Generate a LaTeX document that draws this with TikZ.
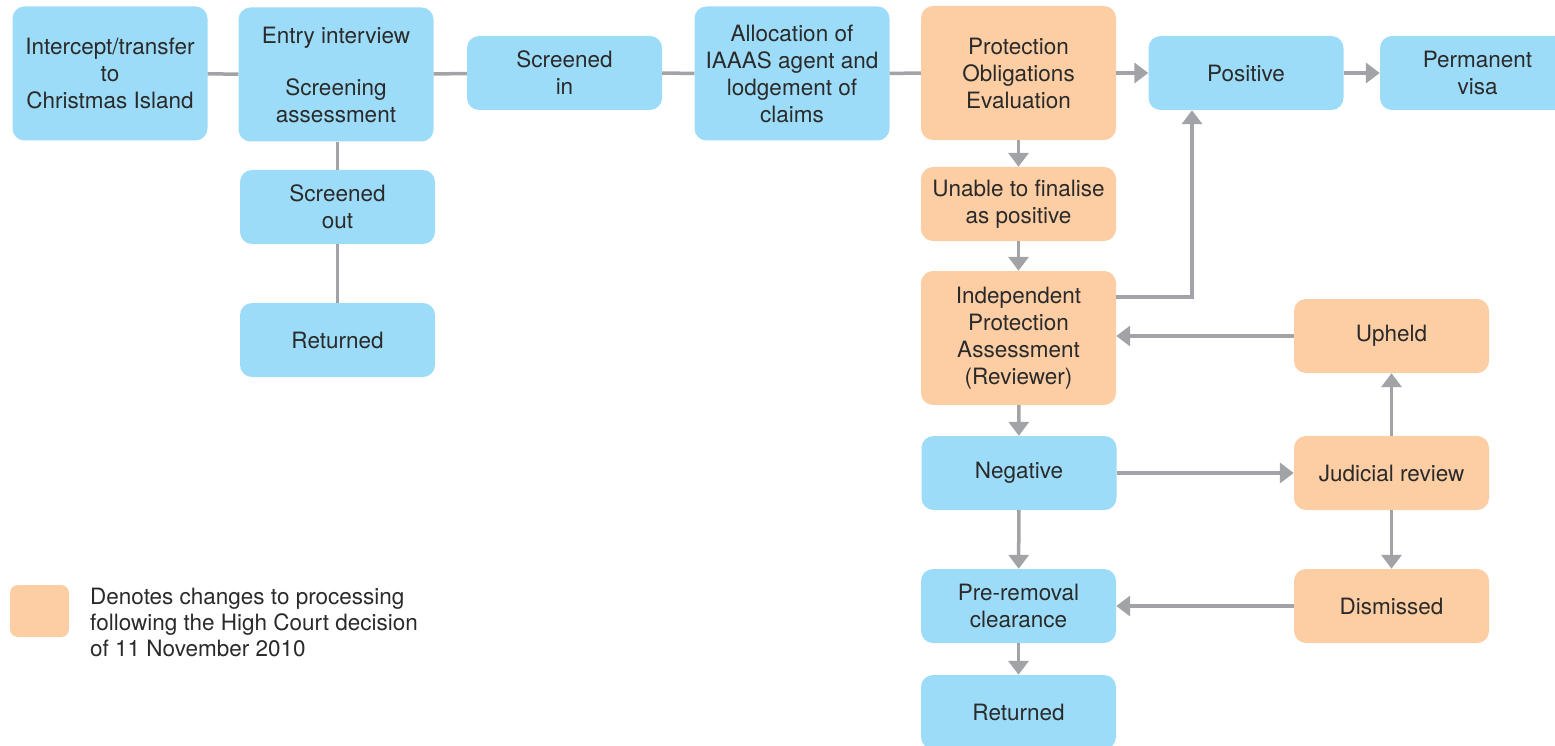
\documentclass[tikz,border=0pt]{standalone}
\usepackage{fontspec}
\setmainfont{TeX Gyre Heros}
\usetikzlibrary{arrows.meta}
\definecolor{boxblue}{HTML}{9DDCF8}
\definecolor{boxorange}{HTML}{FDCDA3}
\definecolor{linegray}{HTML}{A2A3A7}
\definecolor{txtgray}{HTML}{2A2A2A}
\tikzset{
  stage/.style={rounded corners=12pt, minimum width=195pt, minimum height=74pt, align=center,
    text=txtgray, font=\fontsize{22.5}{27}\selectfont, inner sep=0pt},
  oldstage/.style={stage, fill=boxblue},
  newstage/.style={stage, fill=boxorange},
  tall/.style={minimum height=134pt},
  link/.style={draw=linegray, line width=3.5pt},
  flow/.style={link, -{Triangle[length=14pt,width=20pt]}}
}
\begin{document}
\begin{tikzpicture}[x=1pt, y=-1pt]
  \useasboundingbox (0,0) rectangle (1555,746);

  % screening stages
  \node[oldstage, tall] (intercept) at (110,73.5) {Intercept/transfer\\to\\Christmas Island};
  \node[oldstage, tall] (entry) at (336,74.5) {Entry interview\\[25pt]Screening\\assessment};
  \node[oldstage] (scrout) at (337.5,207) {Screened\\out};
  \node[oldstage] (retleft) at (337.5,340) {Returned};
  \node[oldstage] (scrin) at (564.5,73) {Screened\\in};
  \node[oldstage, tall] (alloc) at (792,73.5) {Allocation of\\IAAAS agent and\\lodgement of\\claims};

  % assessment stages
  \node[newstage, tall] (poe) at (1018.5,73) {Protection\\Obligations\\Evaluation};
  \node[oldstage] (positive) at (1246,73) {Positive};
  \node[oldstage] (pvisa) at (1477.5,73) {Permanent\\visa};
  \node[newstage] (unable) at (1018.5,204) {Unable to finalise\\as positive};
  \node[newstage, tall] (ipa) at (1018.5,338) {Independent\\Protection\\Assessment\\(Reviewer)};
  \node[newstage] (upheld) at (1391.5,336) {Upheld};
  \node[oldstage] (negative) at (1019,473) {Negative};
  \node[newstage] (judicial) at (1391.5,473) {Judicial review};
  \node[oldstage] (preremoval) at (1018.5,606) {Pre-removal\\clearance};
  \node[newstage] (dismissed) at (1391.5,606) {Dismissed};
  \node[oldstage] (retbottom) at (1018.5,712) {Returned};

  % legend
  \node[newstage, minimum width=59pt, minimum height=52pt, rounded corners=8pt] (key) at (39.5,611) {};
  \node[anchor=west, align=left, text=txtgray, font=\fontsize{22.5}{26}\selectfont, inner sep=0pt]
    (keytext) at (90,622) {Denotes changes to processing\\following the High Court decision\\of 11 November 2010};

  \draw[link] (intercept) -- (entry);
  \draw[link] (entry) -- (scrin);
  \draw[link] (scrin) -- (alloc);
  \draw[link] (alloc) -- (poe);
  \draw[link] (entry.south -| scrout.north) -- (scrout);
  \draw[link] (scrout) -- (retleft);

  \draw[flow] (poe) -- (positive);
  \draw[flow] (positive) -- (pvisa);
  \draw[flow] (poe) -- (unable);
  \draw[flow] (unable) -- (ipa);
  \draw[flow] ([yshift=41pt]ipa.east) -| ([xshift=-54pt]positive.south);
  \draw[flow] (upheld) -- (upheld -| ipa.east);
  \draw[flow] (ipa) -- (negative);
  \draw[flow] (negative) -- (judicial);
  \draw[flow] (judicial) -- (upheld);
  \draw[flow] (judicial) -- (dismissed);
  \draw[flow] (negative) -- (preremoval);
  \draw[flow] (dismissed) -- (preremoval);
  \draw[flow] (preremoval) -- (retbottom);
\end{tikzpicture}
\end{document}
